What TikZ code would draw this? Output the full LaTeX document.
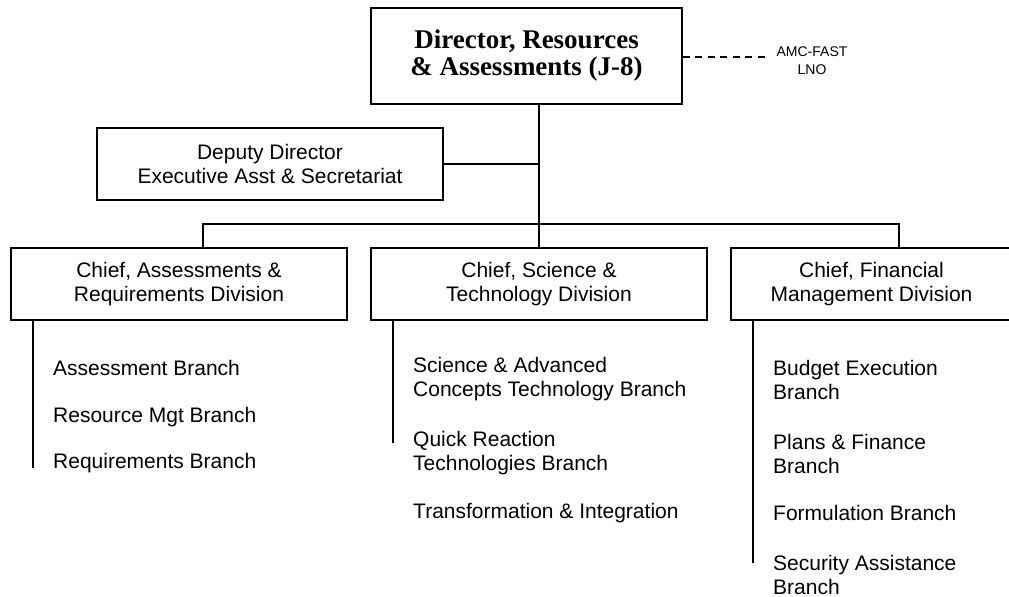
\documentclass[tikz,border=0pt]{standalone}
\usepackage{fontspec}
\setmainfont{Liberation Serif}
\setsansfont{Liberation Sans}
\usepackage{tikz}
\usetikzlibrary{positioning,calc}
\tikzstyle{orgbox} = [draw, line width=1.6bp, inner sep=0pt, align=center, font=\sffamily\fontsize{21bp}{24bp}\selectfont]
\tikzstyle{branch} = [anchor=west, inner sep=0pt, align=left, font=\sffamily\fontsize{21bp}{24bp}\selectfont]
\tikzstyle{link} = [line width=1.6bp]

\begin{document}
\begin{tikzpicture}[x=1bp, y=-1bp]
    \useasboundingbox (0,0) rectangle (1009,597);

    % Director
    \node[orgbox, minimum width=311bp, minimum height=96bp,
          font=\bfseries\fontsize{27bp}{27bp}\selectfont] (dir) at (526.5,56)
        {Director, Resources\\\& Assessments (J-8)};
    \node[align=center, inner sep=0pt, font=\sffamily\fontsize{14bp}{18bp}\selectfont] (lno) at (812,61)
        {AMC-FAST\\LNO};
    \coordinate (lnoend) at (770,57);
    \draw[link, line width=1.2bp, dash pattern=on 7bp off 5.5bp] (dir.east |- lnoend) -- (lnoend);

    % Deputy
    \node[orgbox, minimum width=346bp, minimum height=72bp] (dep) at (270,164)
        {Deputy Director\\Executive Asst \& Secretariat};

    % Divisions
    \node[orgbox, minimum width=336bp, minimum height=72bp] (ard) at (179,284)
        {Chief, Assessments \&\\Requirements Division};
    \node[orgbox, minimum width=336bp, minimum height=72bp] (std) at (539,284)
        {Chief, Science \&\\Technology Division};
    \node[orgbox, minimum width=281bp, minimum height=72bp] (fmd) at (871.5,284)
        {Chief, Financial\\Management Division};

    % Connectors
    \coordinate (bus) at (539,224);
    \draw[link] (dir.south -| std.north) -- (std.north);
    \draw[link] (dep.east) -- (dep.east -| std.north);
    \draw[link] ([xshift=24bp]ard.north) |- (bus) -| ([xshift=27.5bp]fmd.north);

    % Branches, assessments & requirements
    \node[branch] (asb) at (53,368) {Assessment Branch};
    \node[branch] (rmb) at (53,417) {Resource Mgt Branch};
    \node[branch] (rqb) at (53,463) {Requirements Branch};
    \draw[link] ([xshift=23bp]ard.south west) -- ++(0,147);

    % Branches, science & technology
    \node[branch] (sab) at (413,379) {Science \& Advanced\\Concepts Technology Branch};
    \node[branch] (qrb) at (413,453) {Quick Reaction\\Technologies Branch};
    \node[branch] (tib) at (413,513) {Transformation \& Integration};
    \draw[link] ([xshift=23bp]std.south west) -- ++(0,122);

    % Branches, financial management
    \node[branch] (beb) at (773,380) {Budget Execution\\Branch};
    \node[branch] (pfb) at (773,454) {Plans \& Finance\\Branch};
    \node[branch] (fob) at (773,513) {Formulation Branch};
    \node[branch] (sib) at (773,575) {Security Assistance\\Branch};
    \draw[link] ([xshift=23bp]fmd.south west) -- ++(0,242);
\end{tikzpicture}
\end{document}
